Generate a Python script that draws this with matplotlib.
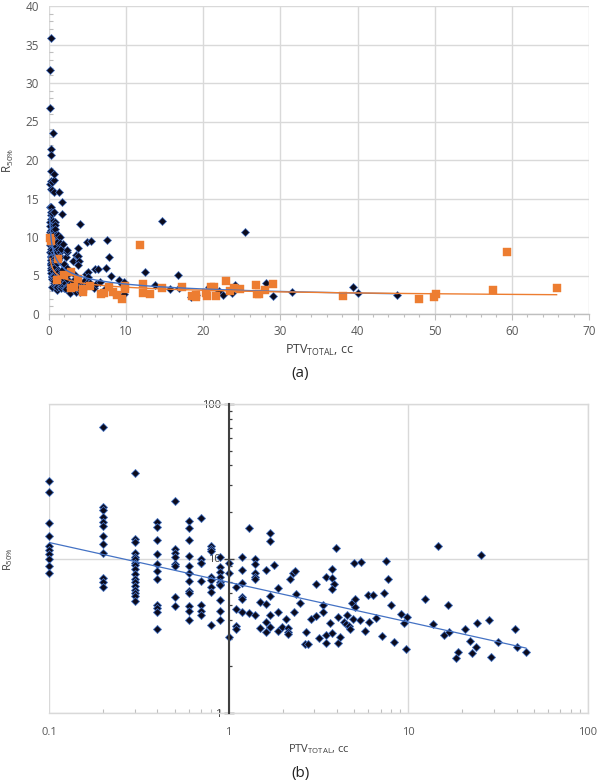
import numpy as np
import matplotlib
matplotlib.use('Agg')
import matplotlib.pyplot as plt
from matplotlib.ticker import MultipleLocator, LogLocator, FixedLocator, FuncFormatter, NullFormatter

plt.rcParams['font.family'] = ['Open Sans', 'DejaVu Sans']
plt.rcParams['mathtext.default'] = 'regular'

# ---------------- data ----------------
# Group 1 (black diamonds): PTV values recorded at 0.1 cc resolution (columns)
col_x = [0.1, 0.2, 0.3, 0.4, 0.5, 0.6, 0.7, 0.8, 0.9, 1.0]
col_y = [
    [31.7, 26.8, 16.9, 13.9, 12.0, 11.4, 10.7, 10.0, 9.0, 8.0],
    [70.7, 21.4, 20.6, 18.6, 17.3, 16.2, 13.9, 12.4, 10.8, 7.5, 7.0, 6.5],
    [35.8, 13.3, 12.8, 10.9, 10.3, 9.9, 9.4, 9.1, 8.5, 7.9, 7.4, 7.0, 6.6, 6.3, 6.0, 5.7, 5.3],
    [17.2, 16.1, 13.1, 10.7, 9.2, 8.3, 7.4, 5.0, 4.8, 4.5, 3.5],
    [23.5, 11.6, 10.9, 10.3, 9.2, 8.9, 5.6, 4.9],
    [17.4, 15.8, 13.2, 10.4, 8.9, 8.0, 7.1, 6.2, 6.0, 4.9, 4.6, 4.0],
    [18.2, 9.9, 9.4, 9.3, 7.2, 5.0, 4.6, 4.3],
    [12.0, 11.5, 11.1, 7.6, 7.3, 6.5, 6.1, 3.7],
    [10.3, 8.8, 8.2, 7.6, 7.0, 6.8, 6.7, 5.4, 4.6, 4.0],
    [9.4, 8.0, 3.1],
]
# Group 1, larger volumes
big_x = [1.10, 1.10, 1.10, 1.10, 1.19, 1.19, 1.19, 1.19, 1.19, 1.19, 1.29, 1.29,
         1.40, 1.40, 1.40, 1.40, 1.40, 1.40, 1.49, 1.49, 1.61, 1.61, 1.61, 1.61,
         1.70, 1.70, 1.70, 1.70, 1.70, 1.79, 1.88, 1.88, 1.88, 1.97, 2.08, 2.15,
         2.15, 2.15, 2.19, 2.28, 2.33, 2.38, 2.30, 2.51, 2.68, 2.67, 2.76, 2.89,
         3.07, 3.08, 3.19, 3.37, 3.37, 3.49, 3.49, 3.49, 3.67, 3.77, 3.78, 3.88,
         3.75, 3.78, 3.98, 4.07, 4.07, 4.19, 4.41, 4.51, 4.57, 4.66, 4.72, 4.84,
         4.97, 5.08, 5.08, 4.95, 5.36, 5.46, 5.77, 5.94, 6.37, 6.05, 6.58, 7.17,
         7.36, 7.48, 7.74, 8.05, 8.28, 9.06, 9.46, 9.78, 9.75, 12.4, 13.8, 14.7,
         15.7, 16.7, 16.9, 19.0, 18.4, 20.8, 22.0, 23.7, 22.6, 24.1, 25.4, 28.1,
         29.0, 31.5, 39.4, 40.0, 45.1]
big_y = [6.57, 4.69, 3.67, 3.50, 10.2, 8.43, 6.97, 5.66, 5.44, 4.49, 15.8, 4.46,
         9.97, 9.21, 8.09, 7.56, 7.40, 4.33, 5.23, 3.55, 8.43, 5.08, 3.86, 3.36,
         14.6, 13.0, 5.72, 4.31, 3.62, 9.12, 6.47, 4.52, 3.41, 3.62, 4.04, 3.53,
         3.36, 3.25, 7.37, 8.02, 8.34, 5.92, 4.52, 5.18, 3.36, 2.80, 2.78, 4.04,
         6.87, 4.25, 3.06, 5.02, 4.49, 7.63, 3.20, 2.83, 3.84, 8.59, 7.48, 6.84,
         6.38, 3.31, 11.75, 4.16, 2.85, 3.09, 3.86, 3.75, 4.33, 3.66, 3.50, 5.13,
         9.35, 5.44, 4.85, 4.04, 4.02, 9.45, 3.40, 5.80, 5.83, 3.90, 4.12, 3.16,
         5.95, 9.63, 7.37, 4.98, 2.87, 4.39, 3.84, 4.18, 2.61, 5.49, 3.78, 12.1,
         3.20, 5.02, 3.36, 2.47, 2.26, 3.48, 2.94, 2.67, 2.44, 3.81, 10.6, 4.00,
         2.29, 2.88, 3.48, 2.67, 2.49]

# Group 2 (orange squares)
org_x = [0.15, 0.3, 1.2, 1.05, 1.9, 2.8, 2.8, 3.3, 3.7, 4.4, 4.4, 5.3, 6.8, 7.1,
         7.8, 8.3, 8.8, 9.5, 9.85, 9.85, 11.8, 12.2, 12.2, 13.1, 14.6, 17.3, 18.5,
         19.0, 19.1, 20.3, 20.5, 21.0, 21.4, 21.6, 23.0, 23.5, 24.0, 24.8, 26.8,
         26.9, 27.2, 28.0, 29.0, 38.1, 47.9, 49.9, 50.2, 57.6, 59.4, 65.8]
org_y = [9.9, 9.5, 7.1, 4.4, 5.1, 5.4, 3.4, 3.5, 4.5, 3.2, 2.9, 3.7, 2.6, 2.7,
         3.5, 2.9, 2.5, 2.0, 3.7, 3.3, 9.0, 3.95, 2.7, 2.6, 3.4, 3.5, 2.4,
         2.2, 2.5, 2.7, 2.3, 3.5, 3.5, 2.3, 4.25, 3.0, 3.4, 3.25, 3.8,
         2.6, 2.6, 3.1, 3.9, 2.4, 2.0, 2.25, 2.6, 3.1, 8.0, 3.35]

x_label = r'PTV$_{TOTAL}$, cc'
y_label = r'R$_{50\%}$'

# ---------------- build ----------------
blk_x = np.array([cx for cx, ys in zip(col_x, col_y) for _ in ys] + big_x)
blk_y = np.array([y for ys in col_y for y in ys] + big_y)
org_x = np.array(org_x)
org_y = np.array(org_y)


def power_fit(x, y, n=300):
    b, lna = np.polyfit(np.log(x), np.log(y), 1)
    xs = np.geomspace(x.min(), x.max(), n)
    return xs, np.exp(lna) * xs ** b


BLACK = '#0b0b1e'
BLUE = '#4472c4'
ORANGE = '#ed7d31'
GRID = '#d9d9d9'
TXT = '#595959'

fig = plt.figure(figsize=(6, 7.83), dpi=100)
W, H = 600.0, 783.0

# ---------- panel (a) ----------
YMAX_A = 40
ax1 = fig.add_axes([49 / W, 1 - 314 / H, 540 / W, 308 / H])
vis = blk_y <= YMAX_A
ax1.plot(blk_x[vis], blk_y[vis], linestyle='none', marker='D', ms=4.4, mfc=BLACK,
         mec=BLUE, mew=0.5, zorder=3, clip_on=False)
ax1.plot(org_x, org_y, linestyle='none', marker='s', ms=5.2, mfc=ORANGE, mec=ORANGE,
         mew=0.3, zorder=4, clip_on=False)
fx, fy = power_fit(blk_x, blk_y)
ax1.plot(fx, fy, color=BLUE, lw=1.0, zorder=5)
fx, fy = power_fit(org_x, org_y)
ax1.plot(fx, fy, color=ORANGE, lw=1.0, zorder=5)

ax1.set_xlim(0, 70)
ax1.set_ylim(0, YMAX_A)
ax1.xaxis.set_major_locator(MultipleLocator(10))
ax1.xaxis.set_minor_locator(MultipleLocator(2))
ax1.yaxis.set_major_locator(MultipleLocator(5))
ax1.yaxis.set_minor_locator(MultipleLocator(1))
ax1.grid(True, which='major', color=GRID, lw=1.0, zorder=0)
ax1.set_axisbelow(True)
for s in ['left', 'top', 'right']:
    ax1.spines[s].set_visible(False)
ax1.spines['bottom'].set_color('#bfbfbf')
ax1.spines['bottom'].set_linewidth(1.0)
ax1.tick_params(axis='x', which='major', direction='out', length=4, width=0.8,
                color='#bfbfbf', labelsize=8.5, labelcolor=TXT, pad=4)
ax1.tick_params(axis='x', which='minor', direction='out', length=2.5, width=0.8,
                color='#bfbfbf')
ax1.tick_params(axis='y', which='major', length=0, labelsize=8.5, labelcolor=TXT, pad=7)
ax1.tick_params(axis='y', which='minor', direction='in', length=3, width=0.8,
                color='#bfbfbf')

fig.text(319 / W, 1 - 350.7 / H, x_label, ha='center', va='center', fontsize=9,
         color='#404040')
fig.text(8 / W, 1 - 160 / H, y_label, ha='center', va='center', rotation=90,
         fontsize=8.5, color='#404040')
fig.text(300 / W, 1 - 374 / H, '(a)', ha='center', va='center', fontsize=11,
         color='#222222')

# ---------- panel (b) ----------
ax2 = fig.add_axes([49 / W, 1 - 713 / H, 539 / W, 309 / H])
ax2.set_xscale('log')
ax2.set_yscale('log')
ax2.plot(blk_x, blk_y, linestyle='none', marker='D', ms=4.1, mfc=BLACK, mec=BLUE,
         mew=0.6, zorder=3, clip_on=False)
fx, fy = power_fit(blk_x, blk_y)
ax2.plot(fx, fy, color=BLUE, lw=0.9, zorder=5)
ax2.set_xlim(0.1, 100)
ax2.set_ylim(1, 100)
ax2.xaxis.set_major_locator(FixedLocator([0.1, 1, 10, 100]))
ax2.xaxis.set_minor_locator(LogLocator(base=10, subs=np.arange(2, 10)))
ax2.xaxis.set_minor_formatter(NullFormatter())
ax2.xaxis.set_major_formatter(FuncFormatter(lambda v, p: '{:g}'.format(v)))
ax2.yaxis.set_major_locator(FixedLocator([1, 10, 100]))
ax2.yaxis.set_minor_locator(LogLocator(base=10, subs=np.arange(2, 10)))
ax2.yaxis.set_minor_formatter(NullFormatter())
ax2.yaxis.set_major_formatter(FuncFormatter(lambda v, p: '{:g}'.format(v)))
ax2.grid(True, which='major', color=GRID, lw=1.0, zorder=0)
ax2.set_axisbelow(True)
ax2.spines['left'].set_position(('data', 1))
ax2.spines['left'].set_color('#404040')
ax2.spines['left'].set_linewidth(1.5)
ax2.spines['left'].set_zorder(6)
for s in ['top', 'right', 'bottom']:
    ax2.spines[s].set_color(GRID)
    ax2.spines[s].set_linewidth(1.0)
ax2.tick_params(axis='x', which='major', length=0, labelsize=8, labelcolor=TXT, pad=10)
ax2.tick_params(axis='x', which='minor', direction='in', length=3, width=0.8,
                color='#bfbfbf')
ax2.tick_params(axis='y', which='major', direction='inout', length=7, width=1.0,
                color='#404040', labelsize=8, labelcolor='#404040', pad=2)
ax2.tick_params(axis='y', which='minor', direction='in', length=2.5, width=0.9,
                color='#404040')

fig.text(319 / W, 1 - 749 / H, x_label, ha='center', va='center', fontsize=8,
         color='#404040')
fig.text(8 / W, 1 - 559 / H, y_label, ha='center', va='center', rotation=90,
         fontsize=8, color='#404040')
fig.text(300 / W, 1 - 773 / H, '(b)', ha='center', va='center', fontsize=11,
         color='#222222')

fig.savefig('out.png', dpi=100)
